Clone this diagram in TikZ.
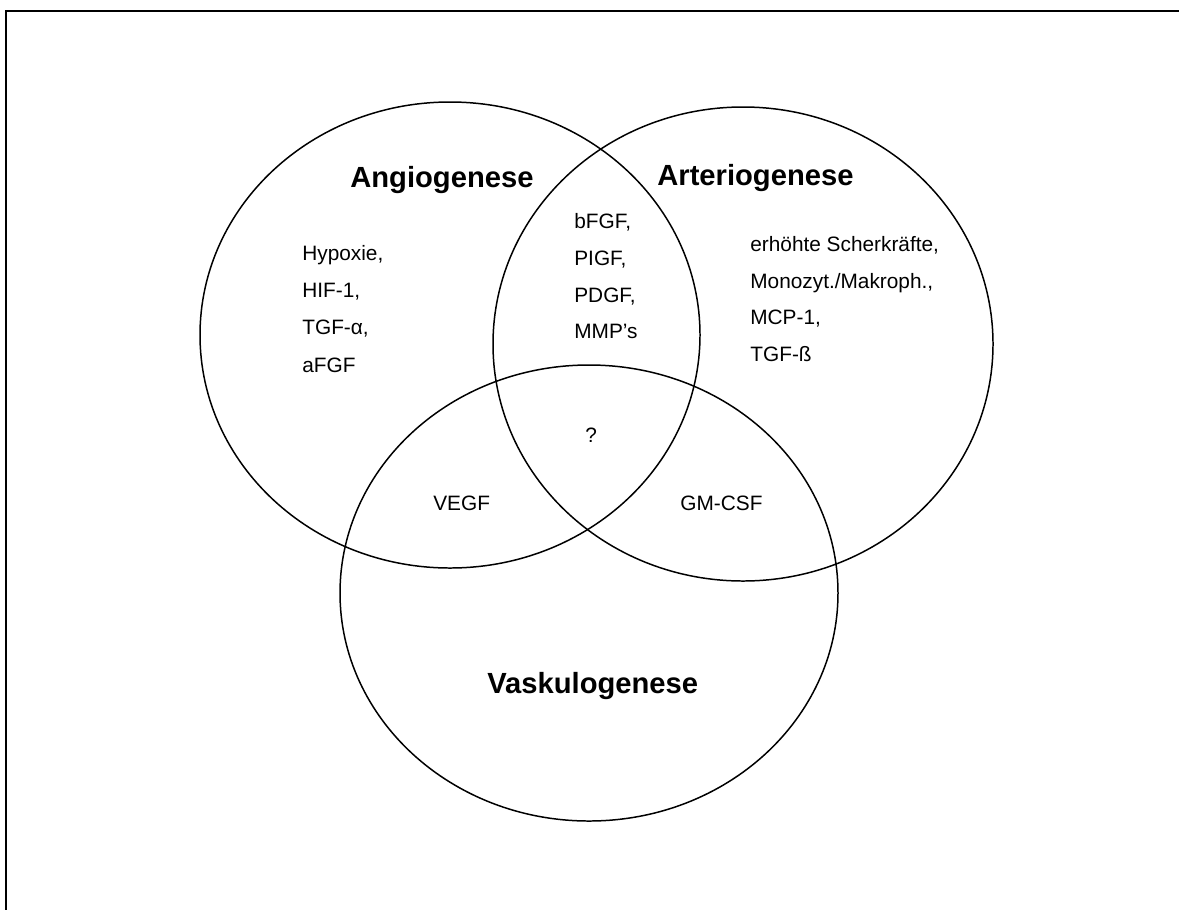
\documentclass[tikz,border=0pt]{standalone}
\usepackage{fontspec}
\setmainfont{Liberation Sans}
\usepackage{tikz}

\tikzset{
  kreis/.style={line width=0.85pt},
  titel/.style={anchor=base west,inner sep=0pt,font=\fontsize{16.6}{20}\selectfont\bfseries},
  faktor/.style={anchor=base west,inner sep=0pt,font=\fontsize{11.85}{14}\selectfont}
}

\begin{document}
\begin{tikzpicture}[x=0.02cm,y=-0.02cm]
\useasboundingbox (0,0) rectangle (1179,910);
% Rahmen
\draw[line width=1.2pt] (1179,11) -- (6,11) -- (6,910);
% Kreise
\draw[kreis] (450,335) ellipse [x radius=250,y radius=233];
\draw[kreis] (743,344) ellipse [x radius=250,y radius=237];
\draw[kreis] (589,593) ellipse [x radius=249,y radius=228];
% Titel
\node[titel] (angio) at (350,187) {Angiogenese};
\node[titel] (arterio) at (657,185) {Arteriogenese};
\node[titel] (vasku) at (487,693) {Vaskulogenese};
% Angiogenese
\node[faktor] (hypoxie) at (302,260) {Hypoxie,};
\node[faktor] (hif) at (302,297) {HIF-1,};
\node[faktor] (tgfa) at (302,334) {TGF-α,};
\node[faktor] (afgf) at (302,372) {aFGF};
% Schnittmenge oben
\node[faktor] (bfgf) at (574,228) {bFGF,};
\node[faktor] (pigf) at (574,265) {PIGF,};
\node[faktor] (pdgf) at (574,302) {PDGF,};
\node[faktor] (mmp) at (574,338) {MMP’s};
% Arteriogenese
\node[faktor] (scher) at (750,251) {erhöhte Scherkräfte,};
\node[faktor] (mono) at (750,288) {Monozyt./Makroph.,};
\node[faktor] (mcp) at (750,324) {MCP-1,};
\node[faktor] (tgfb) at (750,361) {TGF-ß};
% Mitte und unten
\node[faktor] (frage) at (585,442) {?};
\node[faktor] (vegf) at (433,510) {VEGF};
\node[faktor] (gmcsf) at (680,510) {GM-CSF};
\end{tikzpicture}
\end{document}
